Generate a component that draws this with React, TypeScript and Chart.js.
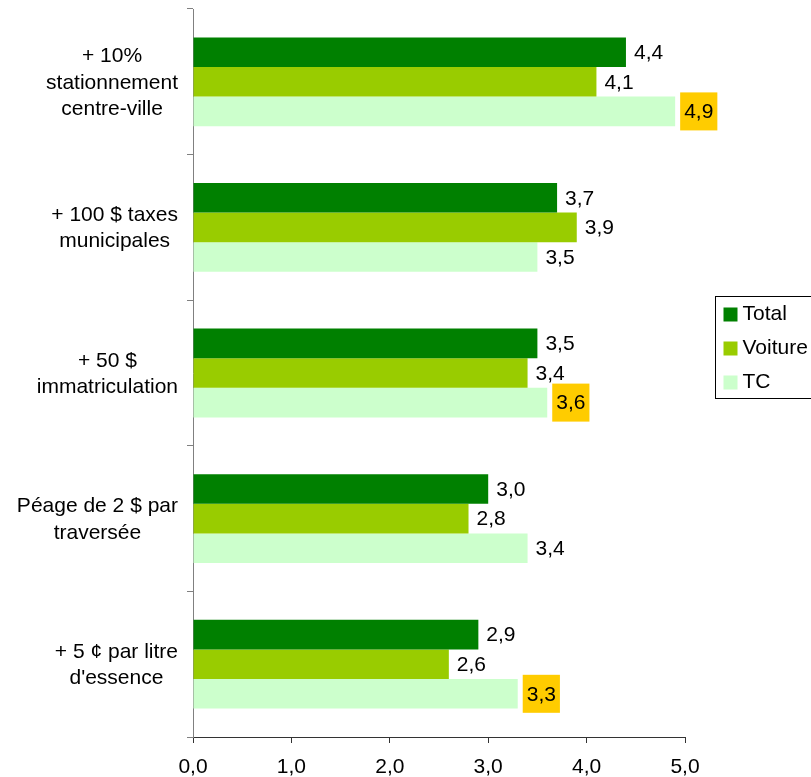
import React, { useEffect, useRef } from "react";
import { Chart, registerables } from "chart.js";

Chart.register(...registerables);

const categories: string[][] = [
  ["+ 10%", "stationnement", "centre-ville"],
  ["+ 100 $ taxes", "municipales"],
  ["+ 50 $", "immatriculation"],
  ["Péage de 2 $ par", "traversée"],
  ["+ 5 ¢ par litre", "d'essence"],
];
const seriesNames = ["Total", "Voiture", "TC"];
const totalValues = [4.4, 3.7, 3.5, 3.0, 2.9];
const voitureValues = [4.1, 3.9, 3.4, 2.8, 2.6];
const tcValues = [4.9, 3.5, 3.6, 3.4, 3.3];
const tcHighlighted = [true, false, true, false, true];
const xMin = 0;
const xMax = 5;
const xStep = 1;

const FONT = '"Liberation Sans", Arial, sans-serif';
const fmt = (v: number) => v.toFixed(1).replace(".", ",");

const dataLabelPlugin = {
  id: "dataLabels",
  afterDatasetsDraw(chart: any) {
    const ctx = chart.ctx;
    ctx.save();
    ctx.font = `21px ${FONT}`;
    ctx.textBaseline = "middle";
    ctx.textAlign = "left";
    chart.data.datasets.forEach((ds: any, di: number) => {
      const meta = chart.getDatasetMeta(di);
      meta.data.forEach((el: any, i: number) => {
        const text = fmt(ds.data[i]);
        const w = ctx.measureText(text).width;
        const hl = ds.highlight && ds.highlight[i];
        if (hl) {
          const bx = el.x + 5;
          const bh = 38;
          ctx.fillStyle = "#FFCC00";
          ctx.fillRect(bx, el.y - bh / 2, w + 8, bh);
          ctx.fillStyle = "#000";
          ctx.fillText(text, bx + 4, el.y + 1);
        } else {
          ctx.fillStyle = "#000";
          ctx.fillText(text, el.x + 8, el.y + 1);
        }
      });
    });
    ctx.restore();
  },
};

const categoryLabelPlugin = {
  id: "categoryLabels",
  afterDraw(chart: any) {
    const ctx = chart.ctx;
    const yScale = chart.scales.y;
    ctx.save();
    ctx.font = `21px ${FONT}`;
    ctx.textBaseline = "middle";
    ctx.textAlign = "center";
    ctx.fillStyle = "#000";
    const lineH = 26.5;
    (chart.data.labels as string[][]).forEach((lines, i) => {
      const cy = yScale.getPixelForValue(i);
      let widest = 0;
      lines.forEach((l) => (widest = Math.max(widest, ctx.measureText(l).width)));
      const cx = yScale.right - 15 - widest / 2;
      lines.forEach((l, j) => {
        ctx.fillText(l, cx, cy + (j - (lines.length - 1) / 2) * lineH + 1);
      });
    });
    ctx.restore();
  },
};

const legendPlugin = {
  id: "boxLegend",
  afterDraw(chart: any) {
    const ctx = chart.ctx;
    const area = chart.chartArea;
    ctx.save();
    const left = area.right + 30.5;
    const top = 296.5;
    ctx.strokeStyle = "#000";
    ctx.lineWidth = 1;
    ctx.strokeRect(left, top, 200, 102);
    ctx.font = `21px ${FONT}`;
    ctx.textBaseline = "middle";
    ctx.textAlign = "left";
    chart.data.datasets.forEach((ds: any, i: number) => {
      const cy = top + 18 + i * 34;
      ctx.fillStyle = ds.backgroundColor;
      ctx.fillRect(left + 8, cy - 7, 14, 14);
      ctx.fillStyle = "#000";
      ctx.fillText(ds.label, left + 27, cy);
    });
    ctx.restore();
  },
};

export default function App() {
  const ref = useRef<HTMLCanvasElement | null>(null);
  useEffect(() => {
    if (!ref.current) return;
    const chart = new Chart(ref.current, {
      type: "bar",
      data: {
        labels: categories as any,
        datasets: [
          { label: seriesNames[0], data: totalValues, backgroundColor: "#008000" },
          { label: seriesNames[1], data: voitureValues, backgroundColor: "#99CC00" },
          { label: seriesNames[2], data: tcValues, backgroundColor: "#CCFFCC", highlight: tcHighlighted } as any,
        ],
      },
      options: {
        indexAxis: "y",
        responsive: false,
        animation: false,
        devicePixelRatio: 1,
        layout: { padding: { top: 9, right: 126, left: 0, bottom: 0 } },
        datasets: { bar: { categoryPercentage: 0.61, barPercentage: 1.0, borderWidth: 0 } },
        plugins: { legend: { display: false }, tooltip: { enabled: false } },
        scales: {
          x: {
            min: xMin,
            max: xMax,
            ticks: {
              stepSize: xStep,
              color: "#000",
              font: { family: FONT, size: 21 },
              padding: 12,
              callback: (v: any) => fmt(Number(v)),
            },
            grid: { drawOnChartArea: false, tickLength: 6, color: "#333" },
            border: { color: "#333", width: 1 },
            afterFit: (s: any) => {
              s.height = 40;
            },
          },
          y: {
            offset: true,
            ticks: { display: false },
            grid: { offset: true, drawOnChartArea: false, tickLength: 6, color: "#808080" },
            border: { color: "#808080", width: 1 },
            afterFit: (s: any) => {
              s.width = 193;
            },
          },
        },
      },
      plugins: [dataLabelPlugin, categoryLabelPlugin, legendPlugin],
    });
    return () => chart.destroy();
  }, []);
  return (
    <div style={{ position: "absolute", left: 0, top: 0, width: 811, height: 777, background: "#fff" }}>
      <canvas ref={ref} width={811} height={777} style={{ display: "block" }} />
    </div>
  );
}
